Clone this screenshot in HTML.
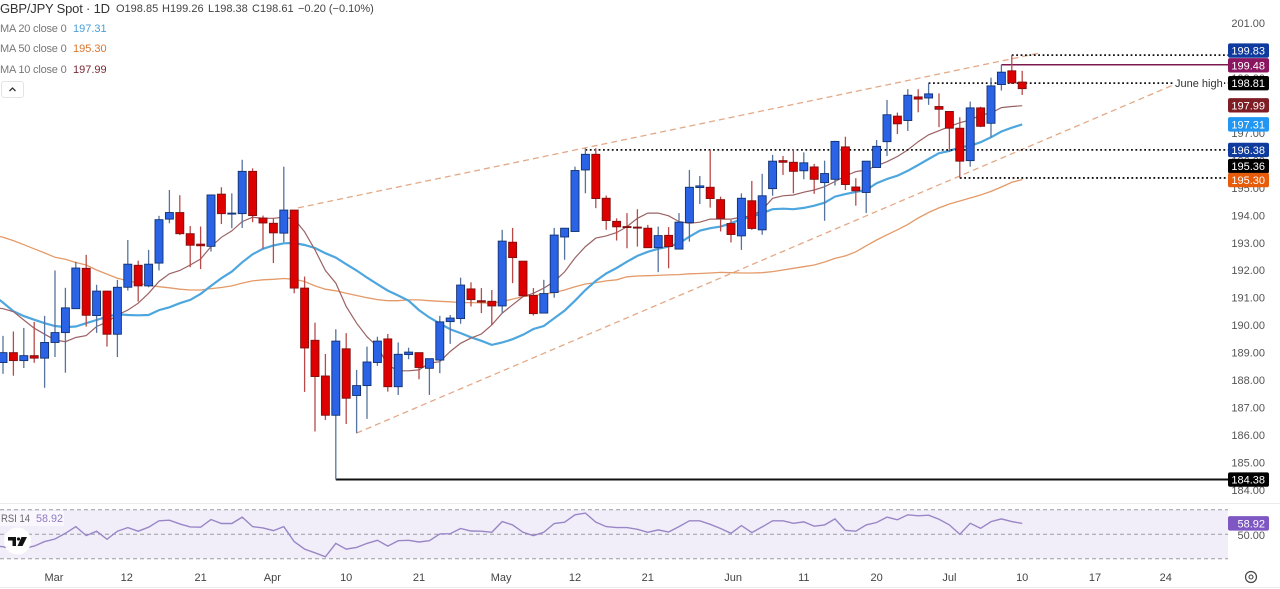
<!DOCTYPE html>
<html lang="en">
<head>
<meta charset="utf-8">
<title>GBP/JPY Spot 1D</title>
<style>
html,body{margin:0;padding:0;background:#fff;}
#chart{position:relative;width:1280px;height:589px;overflow:hidden;background:#fff;font-family:"Liberation Sans",sans-serif;color:#555;}
#plot{position:absolute;left:0;top:0;}
.t{position:absolute;white-space:nowrap;font-size:11px;line-height:14px;}
.title{font-size:13px;line-height:18px;color:#333;letter-spacing:-0.2px;}
.dk{color:#444;}
.gr{color:#777;letter-spacing:-0.2px;}
#collapse{position:absolute;left:1px;top:81px;width:23px;height:17px;border:1px solid #e4e4e4;border-radius:3px;box-sizing:border-box;background:#fff;}
</style>
</head>
<body>
<div id="chart">
<svg id="plot" width="1280" height="589" viewBox="0 0 1280 589"></svg>

<div class="t title" style="left:0;top:0px;">GBP/JPY Spot · 1D</div>
<div class="t dk" style="left:116px;top:2px;">O198.85</div>
<div class="t dk" style="left:162px;top:2px;">H199.26</div>
<div class="t dk" style="left:208px;top:2px;">L198.38</div>
<div class="t dk" style="left:252px;top:2px;">C198.61</div>
<div class="t dk" style="left:298px;top:2px;">−0.20 (−0.10%)</div>

<div class="t gr" style="left:0;top:22px;">MA 20 close 0</div>
<div class="t" style="left:73px;top:22px;color:#4a9fd8;">197.31</div>
<div class="t gr" style="left:0;top:42px;">MA 50 close 0</div>
<div class="t" style="left:73px;top:42px;color:#d9752f;">195.30</div>
<div class="t gr" style="left:0;top:63px;">MA 10 close 0</div>
<div class="t" style="left:73px;top:63px;color:#7a2a35;">197.99</div>

<div id="collapse">
<svg width="21" height="15" viewBox="0 0 21 15"><path d="M7.5 9 L10.5 6 L13.5 9" fill="none" stroke="#333" stroke-width="1.3"/></svg>
</div>
</div>

<script>
const opens=[188.64,189.00,188.71,188.89,188.80,189.37,189.73,190.60,192.07,190.35,191.24,189.67,191.38,192.18,191.43,192.26,193.86,194.10,193.33,192.95,192.87,194.77,194.05,194.06,195.60,193.90,193.71,193.35,194.19,191.35,189.45,188.15,186.72,189.14,187.44,187.80,188.64,189.50,187.76,188.93,189.00,188.43,188.73,190.13,190.24,191.32,190.89,190.87,190.70,193.02,192.33,191.08,190.44,191.19,193.21,193.41,195.65,196.22,194.62,193.78,193.59,193.57,193.53,192.82,193.27,192.77,193.73,195.01,195.02,194.57,193.70,193.25,194.53,193.47,194.97,195.99,195.93,195.62,195.76,195.19,195.31,196.49,195.03,194.83,195.74,196.68,197.61,197.45,198.31,198.27,197.96,197.78,197.17,195.99,197.91,197.35,198.76,199.26,198.85];
const highs=[189.61,189.77,189.90,190.12,190.34,191.99,191.36,192.31,192.56,191.47,191.25,191.65,193.10,192.35,192.74,193.98,194.92,194.73,193.61,193.59,194.74,195.02,194.80,196.02,195.71,193.99,193.89,195.77,194.19,191.77,190.09,188.95,189.85,189.71,188.37,189.22,189.58,189.68,189.37,189.18,189.00,188.78,190.34,190.37,191.73,191.56,191.35,191.28,193.47,193.54,192.33,191.35,191.65,193.54,193.53,195.77,196.44,196.44,194.72,193.89,194.08,194.22,193.65,193.59,193.57,194.08,195.65,195.43,196.38,194.68,193.83,194.80,195.25,195.51,196.20,196.16,196.41,196.29,195.87,195.99,196.71,196.86,195.35,195.97,196.74,198.20,197.74,198.59,198.59,198.81,198.44,197.78,197.57,198.14,197.95,199.01,199.48,199.83,199.26];
const lows=[188.23,188.16,188.44,188.63,187.72,188.84,188.27,190.60,189.95,189.72,189.22,188.84,191.26,190.86,191.38,191.99,193.71,193.28,192.11,192.04,192.68,193.68,193.53,193.54,193.75,192.78,192.26,193.02,191.16,187.57,186.13,186.55,184.38,186.40,186.07,186.59,188.52,187.58,187.46,188.76,188.03,187.46,188.25,189.32,190.05,190.68,190.44,190.01,190.44,191.53,191.07,190.35,190.44,191.00,192.38,193.41,194.80,194.26,193.47,193.08,192.80,192.86,192.82,191.93,192.07,192.77,193.04,194.41,194.28,193.41,193.01,192.74,193.47,193.29,194.71,195.47,194.80,195.31,194.78,193.80,195.08,194.92,194.35,194.08,195.74,196.16,196.96,197.07,197.75,198.02,197.21,196.32,195.36,195.77,197.21,196.84,198.54,198.78,198.38];
const closes=[189.00,188.71,188.89,188.80,189.37,189.73,190.63,192.08,190.36,191.24,189.67,191.38,192.22,191.43,192.22,193.84,194.10,193.33,192.91,192.89,194.74,194.06,194.08,195.60,193.99,193.72,193.36,194.19,191.35,189.17,188.13,186.72,189.42,187.34,187.80,188.66,189.42,187.76,188.94,189.02,188.46,188.78,190.12,190.26,191.46,190.93,190.84,190.70,193.06,192.46,191.07,190.42,191.15,193.28,193.53,195.63,196.22,194.61,193.81,193.58,193.56,193.55,192.82,193.26,192.86,193.75,195.02,195.07,194.61,193.89,193.30,194.62,193.52,194.71,195.97,195.93,195.60,195.91,195.31,195.52,196.69,195.12,194.89,195.97,196.51,197.66,197.33,198.37,198.23,198.42,197.86,197.17,195.97,197.91,197.24,198.71,199.21,198.82,198.61];
const ma20=[190.82,190.51,190.33,190.20,190.07,189.97,189.93,189.95,190.07,190.19,190.31,190.40,190.37,190.36,190.37,190.55,190.65,190.80,190.92,191.14,191.43,191.71,191.95,192.29,192.58,192.78,192.90,192.98,192.99,192.92,192.81,192.62,192.46,192.22,191.99,191.73,191.49,191.26,191.08,190.89,190.55,190.28,190.06,189.85,189.71,189.56,189.43,189.28,189.37,189.49,189.65,189.86,189.97,190.25,190.53,190.89,191.28,191.61,191.88,192.08,192.31,192.52,192.67,192.78,192.86,192.98,193.22,193.44,193.53,193.59,193.71,193.86,193.95,194.08,194.22,194.24,194.22,194.27,194.35,194.46,194.68,194.77,194.85,194.92,195.17,195.32,195.44,195.62,195.83,196.05,196.26,196.34,196.48,196.53,196.66,196.84,197.05,197.19,197.31];
const ma50=[193.20,193.08,192.93,192.78,192.63,192.47,192.40,192.28,192.19,192.01,191.86,191.71,191.62,191.53,191.45,191.40,191.36,191.31,191.28,191.28,191.33,191.37,191.43,191.53,191.61,191.65,191.67,191.70,191.67,191.59,191.43,191.31,191.25,191.16,191.08,191.00,190.93,190.89,190.89,190.92,190.92,190.89,190.87,190.85,190.82,190.82,190.81,190.80,190.86,190.95,191.04,191.08,191.13,191.19,191.28,191.40,191.50,191.55,191.61,191.65,191.76,191.79,191.80,191.81,191.83,191.84,191.87,191.88,191.90,191.92,191.91,191.90,191.90,191.91,191.95,192.01,192.07,192.13,192.19,192.30,192.43,192.52,192.67,192.89,193.10,193.29,193.47,193.67,193.90,194.10,194.27,194.41,194.52,194.63,194.74,194.87,195.03,195.20,195.30];
const ma10=[190.60,190.49,190.19,189.89,189.67,189.46,189.40,189.55,189.62,189.95,190.11,190.37,190.55,190.80,191.16,191.59,191.87,191.99,192.19,192.41,192.86,193.20,193.43,193.77,193.93,193.89,193.89,193.93,193.86,193.40,192.74,191.99,191.53,190.68,190.07,189.58,189.22,188.55,188.34,188.34,188.37,188.62,188.67,189.04,189.34,189.53,189.68,190.01,190.44,190.74,191.04,191.16,191.35,191.59,191.94,192.45,192.86,193.17,193.25,193.37,193.59,193.89,194.08,194.08,193.98,193.77,193.71,193.75,193.86,193.86,193.86,193.93,193.98,194.20,194.62,194.71,194.74,194.84,194.92,195.04,195.23,195.43,195.59,195.65,195.80,195.95,196.14,196.38,196.68,196.93,197.08,197.23,197.37,197.47,197.65,197.72,197.92,197.96,197.99];
const rsi=[39.9,37.7,38.5,40.4,44.0,46.2,50.8,56.3,48.9,52.5,45.9,52.5,55.5,52.5,55.8,61.0,61.5,58.5,56.0,55.8,62.1,58.8,58.8,64.0,56.3,55.2,53.0,56.3,44.0,37.9,34.9,31.6,42.6,37.9,39.3,42.6,45.1,40.4,44.8,45.1,43.7,44.8,50.3,50.5,54.7,52.7,52.5,51.6,60.4,57.7,51.6,48.9,51.6,58.8,59.9,65.9,67.3,59.9,56.3,55.5,55.5,54.1,51.6,53.6,51.9,56.3,61.0,61.0,58.2,54.7,50.8,57.1,51.4,56.0,61.0,61.0,59.0,60.1,56.6,57.7,62.6,53.3,52.5,57.7,59.6,64.0,61.8,65.9,65.1,65.6,62.3,57.7,50.0,59.0,54.9,60.4,62.6,60.4,58.92];

// values of the bar just off the left edge, so lines reach the plot boundary
const priorMa20=[191.12];
const priorMa50=[193.30];
const priorMa10=[190.65];
const priorRsi=[40.5];

const priceTicks=[201,200,199,198,197,196,195,194,193,192,191,190,189,188,187,186,185,184];
const rsiLevels=[70,50,30];
const timeLabels=["Mar","12","21","Apr","10","21","May","12","21","Jun","11","20","Jul","10","17","24"];
const timeLabelBars=[4.9,11.9,19,25.9,33,40,47.9,55,62,70.2,77,84,91,98,105,111.8];
const dottedLevels=[199.83,198.81,196.38,195.36];
const dottedStartBars=[97,89,56,92];
const upperTrendBars=[28.36,99.7];
const upperTrendPrices=[194.27,199.91];
const lowerTrendBars=[34,112.5];
const lowerTrendPrices=[186.07,198.74];
const swingHighLevel=[199.48];
const swingHighBar=[96];
const swingLowLevel=[184.38];
const swingLowBar=[32];

const NS='http://www.w3.org/2000/svg';
const svg=document.getElementById('plot');
const plotRight=1228;
function xBar(i){return 3+10.4*i;}
function yPrice(p){return 23+(201-p)*27.47;}
function yRsi(v){return 534.3-(v-50)*1.225;}
function el(tag,parent,attrs){
  const e=document.createElementNS(NS,tag);
  for(const k in attrs){e.setAttribute(k,attrs[k]);}
  (parent||svg).appendChild(e);
  return e;
}
function polyPoints(values,yFn,prior){
  const head=xBar(-1).toFixed(1)+','+yFn(prior).toFixed(1)+' ';
  return head+values.map(function(v,i){return xBar(i).toFixed(1)+','+yFn(v).toFixed(1);}).join(' ');
}

// panel separators
const topRule=el('line',svg,{x1:0,x2:1280,y1:503.5,y2:503.5,stroke:'#ececec','stroke-width':1});


const bottomRule=el('line',svg,{x1:0,x2:1280,y1:587.5,y2:587.5,stroke:'#ececec','stroke-width':1});



// price ticks
priceTicks.forEach(function(p){
  const t=el('text',svg,{x:1265,y:yPrice(p)+4,'text-anchor':'end','font-size':11,fill:'#555','font-family':'"Liberation Sans",sans-serif'});
  t.textContent=p.toFixed(2);
  
  
});

// time labels
timeLabels.forEach(function(lab,i){
  const t=el('text',svg,{x:xBar(timeLabelBars[i]),y:581,'text-anchor':'middle','font-size':11,fill:'#444','font-family':'"Liberation Sans",sans-serif'});
  t.textContent=lab;
  
  
});

// RSI panel
const rsiBand=el('rect',svg,{x:0,y:yRsi(70),width:plotRight,height:yRsi(30)-yRsi(70),fill:'#f1eefa'});


rsiLevels.forEach(function(v){
  const l=el('line',svg,{x1:0,x2:plotRight,y1:yRsi(v),y2:yRsi(v),stroke:'#9b9ba3','stroke-width':1,'stroke-dasharray':'4 3'});
  
  
});
const rsiLine=el('polyline',svg,{points:polyPoints(rsi,yRsi,priorRsi[0]),fill:'none',stroke:'#9a86c6','stroke-width':1.4});



// trend lines
const upperTrend=el('line',svg,{x1:xBar(upperTrendBars[0]),y1:yPrice(upperTrendPrices[0]),x2:xBar(upperTrendBars[1]),y2:yPrice(upperTrendPrices[1]),stroke:'#e3a987','stroke-width':1.3,'stroke-dasharray':'6 4'});


const lowerTrend=el('line',svg,{x1:xBar(lowerTrendBars[0]),y1:yPrice(lowerTrendPrices[0]),x2:xBar(lowerTrendBars[1]),y2:yPrice(lowerTrendPrices[1]),stroke:'#e3a987','stroke-width':1.3,'stroke-dasharray':'6 4'});



// moving averages
const ma50Line=el('polyline',svg,{points:polyPoints(ma50,yPrice,priorMa50[0]),fill:'none',stroke:'#e39a68','stroke-width':1.3});


const ma20Line=el('polyline',svg,{points:polyPoints(ma20,yPrice,priorMa20[0]),fill:'none',stroke:'#4ea6de','stroke-width':2.2});


const ma10Line=el('polyline',svg,{points:polyPoints(ma10,yPrice,priorMa10[0]),fill:'none',stroke:'#9a6264','stroke-width':1.2});



// horizontal levels
dottedLevels.forEach(function(p,i){
  const l=el('line',svg,{x1:xBar(dottedStartBars[i]),x2:plotRight,y1:yPrice(p),y2:yPrice(p),stroke:'#111','stroke-width':1.8,'stroke-dasharray':'1.8 2.6'});
  
  
});
const swingHigh=el('line',svg,{x1:xBar(swingHighBar[0]),x2:plotRight,y1:yPrice(swingHighLevel[0]),y2:yPrice(swingHighLevel[0]),stroke:'#7c1a4e','stroke-width':1.5});


const swingLow=el('line',svg,{x1:xBar(swingLowBar[0]),x2:plotRight,y1:yPrice(swingLowLevel[0]),y2:yPrice(swingLowLevel[0]),stroke:'#111','stroke-width':2});



// candles
closes.forEach(function(c,i){
  const o=opens[i];
  const up=c>=o;
  const x=xBar(i);
  const wick=el('line',svg,{x1:x,x2:x,y1:yPrice(highs[i]),y2:yPrice(lows[i]),stroke:up?'#56739f':'#b84a4a','stroke-width':1.3});
  
  
  const top=yPrice(Math.max(o,c));
  const h=Math.max(Math.abs(yPrice(o)-yPrice(c)),1);
  const body=el('rect',svg,{x:x-4,y:top,width:8,height:h,fill:up?'#2a63e6':'#de0000',stroke:up?'#12316f':'#7d1010','stroke-width':0.9});
  
  
});

// June high label
const juneBg=el('rect',svg,{x:1174,y:76,width:50,height:14,fill:'#fff'});


const juneText=el('text',svg,{x:1175,y:87,'font-size':11,fill:'#333','font-family':'"Liberation Sans",sans-serif'});
juneText.textContent='June high';



// axis tags
function drawTag(value,fill,centerY,name){
  const g=el('g',svg,{});
  
  
  el('rect',g,{x:plotRight,y:centerY-7.2,width:41,height:14.4,rx:2,fill:fill});
  const t=el('text',g,{x:1265,y:centerY+4,'text-anchor':'end','font-size':11,fill:'#fff','font-family':'"Liberation Sans",sans-serif'});
  t.textContent=value.toFixed(2);
}
drawTag(dottedLevels[0],'#0f3a9e',yPrice(dottedLevels[0])-4.6,'tag-199-83');
drawTag(swingHighLevel[0],'#8a1560',yPrice(swingHighLevel[0])+0.6,'tag-199-48');
drawTag(dottedLevels[1],'#000000',yPrice(dottedLevels[1]),'tag-198-81');
drawTag(ma10[ma10.length-1],'#7f1d24',yPrice(ma10[ma10.length-1])-0.4,'tag-ma10');
drawTag(ma20[ma20.length-1],'#2196f3',yPrice(ma20[ma20.length-1]),'tag-ma20');
drawTag(dottedLevels[2],'#0f3a9e',yPrice(dottedLevels[2]),'tag-196-38');
drawTag(dottedLevels[3],'#000000',yPrice(dottedLevels[3])-11.8,'tag-195-36');
drawTag(ma50[ma50.length-1],'#e65c0a',yPrice(ma50[ma50.length-1])+0.5,'tag-ma50');
drawTag(swingLowLevel[0],'#000000',yPrice(swingLowLevel[0]),'tag-184-38');

// RSI ticks and tag
const rsi50=el('text',svg,{x:1265,y:yRsi(50)+4.5,'text-anchor':'end','font-size':11,fill:'#555','font-family':'"Liberation Sans",sans-serif'});
rsi50.textContent='50.00';


drawTag(rsi[rsi.length-1],'#7e57c2',yRsi(rsi[rsi.length-1]),'tag-rsi');

// RSI legend
const rsiLegendBg=el('rect',svg,{x:0,y:511,width:64,height:15,fill:'#ffffff','fill-opacity':0.55});


const rsiLegend=el('text',svg,{x:1,y:522,'font-size':11,fill:'#666','font-family':'"Liberation Sans",sans-serif',textLength:29,lengthAdjust:'spacingAndGlyphs'});
rsiLegend.textContent='RSI 14';


const rsiLegendVal=el('text',svg,{x:36,y:522,'font-size':11,fill:'#9079c4','font-family':'"Liberation Sans",sans-serif',textLength:27,lengthAdjust:'spacingAndGlyphs'});
rsiLegendVal.textContent=rsi[rsi.length-1].toFixed(2);



// logo badge
const logo=el('g',svg,{});


el('circle',logo,{cx:17.5,cy:541,r:13.5,fill:'#fff'});
el('path',logo,{d:'M8 537 H16 V546 H12.5 V540.5 H8 Z',fill:'#111'});
el('path',logo,{d:'M21.5 537 H27 L22.5 546 H17.5 Z',fill:'#111'});
el('circle',logo,{cx:18.5,cy:539,r:1.6,fill:'#111'});

// settings icon
const gear=el('g',svg,{});


el('circle',gear,{cx:1251,cy:577,r:5.5,fill:'none',stroke:'#444','stroke-width':1.2});
el('circle',gear,{cx:1251,cy:577,r:2,fill:'none',stroke:'#444','stroke-width':1.1});
</script>
</body>
</html>
